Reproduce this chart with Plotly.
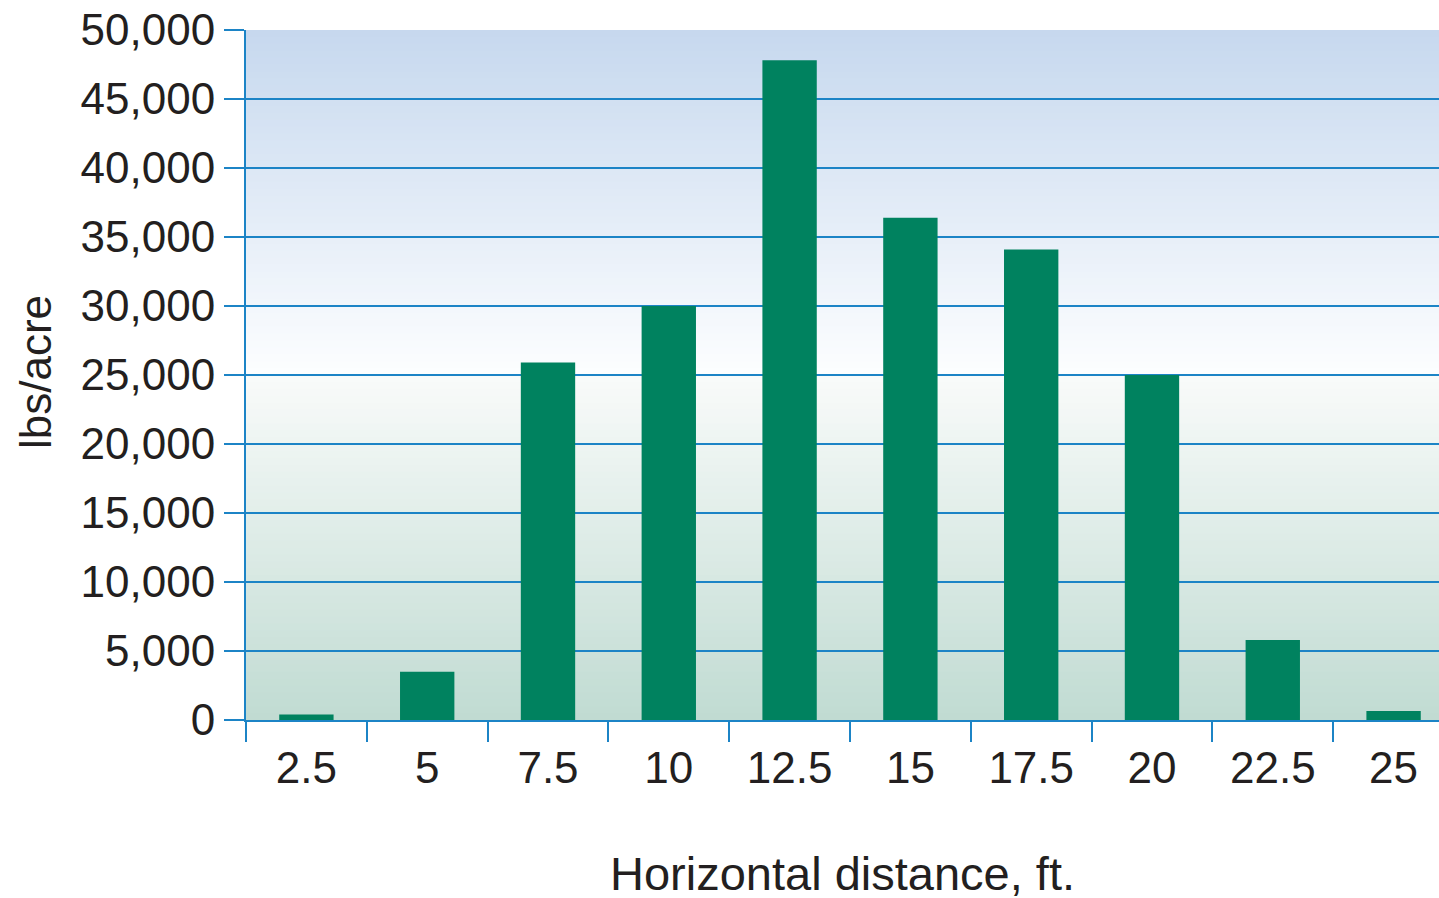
import plotly.graph_objects as go

# ---- data ----
categories = ["2.5", "5", "7.5", "10", "12.5", "15", "17.5", "20", "22.5", "25"]
lbs_per_acre = [400, 3500, 25900, 30000, 47800, 36400, 34100, 25000, 5800, 650]
y_tick_values = [0, 5000, 10000, 15000, 20000, 25000, 30000, 35000, 40000, 45000, 50000]

# ---- style ----
BAR_COLOR = "#00825F"
LINE_BLUE = "#1C84C6"
TEXT = "#231F20"
FONT = "Liberation Sans, Arial, sans-serif"

W, H = 1439, 898
ML, MR, MT, MB = 246, 0, 30, 178

fig = go.Figure()
fig.add_trace(go.Bar(
    x=categories, y=lbs_per_acre,
    marker=dict(color=BAR_COLOR, line=dict(width=0)),
    showlegend=False,
))

# background gradient via overlapping stripes
def lerp(c0, c1, t):
    return tuple(round(a + (b - a) * t) for a, b in zip(c0, c1))

shapes = []
top_c, mid_hi = (198, 216, 238), (253, 254, 255)
mid_lo, bot_c = (249, 251, 250), (192, 219, 210)
step = 500
for v0 in range(0, 50000, step):
    v1 = min(v0 + step * 2, 50000)
    vm = v0 + step / 2
    if vm >= 25000:
        t = (vm - 25000) / 25000
        c = lerp(mid_hi, top_c, t)
    else:
        t = vm / 25000
        c = lerp(bot_c, mid_lo, t)
    shapes.append(dict(
        type="rect", xref="paper", yref="y", x0=0, x1=1, y0=v0, y1=v1,
        fillcolor="rgb(%d,%d,%d)" % c, line=dict(width=0), layer="below",
    ))

pw = W - ML - MR
ph = H - MT - MB

fig.update_layout(
    width=W, height=H,
    margin=dict(l=ML, r=MR, t=MT, b=MB, pad=0),
    paper_bgcolor="white", plot_bgcolor="white",
    bargap=0.55,
    shapes=shapes,
    font=dict(family=FONT, color=TEXT, size=44),
    xaxis=dict(
        type="category",
        range=[-0.5, 9.376],
        showgrid=False, zeroline=False,
        showline=True, linecolor=LINE_BLUE, linewidth=2,
        ticks="outside", tickson="boundaries", ticklen=20, tickwidth=2, tickcolor=LINE_BLUE,
        ticklabelstandoff=8,
        tickfont=dict(size=44, family=FONT, color=TEXT),
    ),
    yaxis=dict(
        range=[0, 50000],
        tickvals=y_tick_values, tickformat=",",
        showgrid=True, gridcolor=LINE_BLUE, gridwidth=2,
        zeroline=False,
        showline=True, linecolor=LINE_BLUE, linewidth=2,
        ticks="outside", ticklen=20, tickwidth=2, tickcolor=LINE_BLUE,
        tickfont=dict(size=44, family=FONT, color=TEXT),
    ),
    annotations=[
        dict(text="lbs/acre", xref="paper", yref="paper",
             x=(35 - ML) / pw, y=(MT + ph - 372) / ph, textangle=-90,
             xanchor="center", yanchor="middle", showarrow=False,
             font=dict(size=44, family=FONT, color=TEXT)),
        dict(text="Horizontal distance, ft.", xref="paper", yref="paper",
             x=(842 - ML) / pw, y=(MT + ph - 873) / ph,
             xanchor="center", yanchor="middle", showarrow=False, height=46,
             font=dict(size=47, family=FONT, color=TEXT)),
    ],
)

fig.write_html("out.html", post_script="document.body.style.margin='0';",
               config={"displayModeBar": False})
